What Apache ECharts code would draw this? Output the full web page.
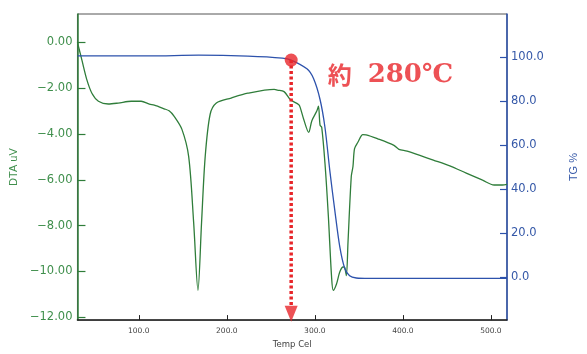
<!DOCTYPE html>
<html>
<head>
<meta charset="utf-8">
<script src="https://cdn.jsdelivr.net/npm/echarts@6/dist/echarts.min.js"></script>
<style>html,body{margin:0;padding:0;background:#fff}#c{width:587px;height:354px}</style>
</head>
<body>
<div id="c"></div>
<script>
// DTA curve (Temp Cel, uV)
const dtaTemp = [30.3,35.5,41.1,46.7,54.1,65.3,76.5,91.5,102.7,112.0,117.6,128.8,134.4,140.0,149.0,156.7,162.3,167.2,171.3,175.4,181.0,188.1,204.9,223.9,253.8,257.5,265.0,272.4,281.8,283.5,287.4,293.0,296.6,302.2,304.1,305.9,307.8,311.5,315.3,319.0,320.9,324.6,328.3,332.1,333.9,335.8,337.7,341.4,343.3,345.1,348.9,354.5,358.2,371.3,389.9,395.5,404.9,434.6,453.3,472.0,490.6,503.7,513.0,518.3];
const dtaValue = [0.00,-0.80,-1.65,-2.22,-2.57,-2.69,-2.65,-2.57,-2.57,-2.70,-2.74,-2.90,-2.99,-3.22,-3.80,-5.00,-7.86,-10.83,-7.86,-5.00,-3.15,-2.65,-2.43,-2.22,-2.05,-2.08,-2.15,-2.51,-2.72,-2.86,-3.37,-3.93,-3.42,-3.00,-2.79,-3.61,-3.71,-5.28,-7.56,-10.25,-10.83,-10.55,-10.03,-9.81,-9.83,-10.19,-8.70,-5.85,-5.42,-4.64,-4.36,-4.03,-4.04,-4.21,-4.50,-4.67,-4.75,-5.14,-5.39,-5.71,-6.02,-6.23,-6.23,-6.20];
// TG curve (Temp Cel, %)
const tgTemp = [30.3,112.0,167.9,223.9,263.1,273.1,291.0,298.5,305.9,311.5,317.1,322.7,328.3,333.9,339.5,347.0,361.6,518.3];
const tgValue = [100.4,100.4,100.7,100.3,99.4,98.5,94.5,90.1,80.6,67.9,48.0,30.2,13.8,4.0,0.6,-0.4,-0.6,-0.6];
// annotation
const markTemp = 273.1;
const markTG = [98.5, -13.3, -16.6]; // dot, dotted-line end, arrow head
const markText = '約 280℃';
// ticks
const xTicks = [100,200,300,400,500];
const dtaTicks = [0,-2,-4,-6,-8,-10,-12];
const tgTicks = [0,20,40,60,80,100];

const GREEN = '#2f7d3a', GREEN_L = '#3f8f4c', BLUE = '#2d52ac', BLUE_L = '#3558a8', RED = '#e8262a';
const zip = (a, b) => a.map((v, i) => [v, b[i]]);

const chart = echarts.init(document.getElementById('c'), null, {renderer: 'canvas'});
chart.setOption({
  animation: false,
  grid: {left: 77, right: 74, top: 14, bottom: 27, show: true, borderColor: '#555', borderWidth: 1},
  xAxis: {
    type: 'value', min: 30.3, max: 518.3,
    name: 'Temp Cel', nameLocation: 'middle', nameGap: 17,
    nameTextStyle: {color: '#444', fontSize: 8.5, fontFamily: 'DejaVu Sans'},
    axisLine: {show: true, onZero: false, lineStyle: {color: '#222', width: 1.5}},
    axisTick: {show: true, inside: true, length: 5, customValues: xTicks, lineStyle: {color: '#222'}},
    axisLabel: {customValues: xTicks, margin: 7, color: '#444', fontSize: 7.5, fontFamily: 'DejaVu Sans', formatter: v => v.toFixed(1)},
    splitLine: {show: false}
  },
  yAxis: [{
    type: 'value', min: -12.13, max: 1.24, position: 'left',
    name: 'DTA uV', nameLocation: 'middle', nameGap: 58, nameRotate: 90,
    nameTextStyle: {color: GREEN_L, fontSize: 11, fontFamily: 'Liberation Sans'},
    axisLine: {show: true, onZero: false, lineStyle: {color: GREEN, width: 1.5}},
    axisTick: {show: true, inside: true, length: 8, customValues: dtaTicks, lineStyle: {color: GREEN, width: 1.2}},
    axisLabel: {customValues: dtaTicks, margin: 5, color: GREEN_L, fontSize: 11.5, fontFamily: 'DejaVu Sans', formatter: v => v.toFixed(2).replace('-', '\u2212')},
    splitLine: {show: false}
  }, {
    type: 'value', min: -19.5, max: 119.4, position: 'right',
    name: 'TG %', nameLocation: 'middle', nameGap: 61, nameRotate: 90,
    nameTextStyle: {color: BLUE_L, fontSize: 11, fontFamily: 'Liberation Sans'},
    axisLine: {show: true, onZero: false, lineStyle: {color: BLUE, width: 1.5}},
    axisTick: {show: true, inside: true, length: 7, customValues: tgTicks, lineStyle: {color: BLUE, width: 1.2}},
    axisLabel: {customValues: tgTicks, margin: 4, color: BLUE_L, fontSize: 11.5, fontFamily: 'DejaVu Sans', formatter: v => v.toFixed(1)},
    splitLine: {show: false}
  }],
  series: [{
    name: 'DTA', type: 'line', yAxisIndex: 0, data: zip(dtaTemp, dtaValue),
    smooth: 0.3, showSymbol: false, lineStyle: {color: GREEN, width: 1.3}, z: 2
  }, {
    name: 'TG', type: 'line', yAxisIndex: 1, data: zip(tgTemp, tgValue),
    smooth: 0.3, showSymbol: false, lineStyle: {color: BLUE, width: 1.3}, z: 3
  }, {
    name: 'guide', type: 'line', yAxisIndex: 1,
    data: [[markTemp, markTG[0]], [markTemp, markTG[1]]],
    showSymbol: false, lineStyle: {color: RED, width: 3.5, type: [3, 2.5], cap: 'butt'}, z: 4
  }, {
    name: 'arrow', type: 'scatter', yAxisIndex: 1, data: [[markTemp, markTG[2]]],
    symbol: 'triangle', symbolRotate: 180, symbolSize: [13, 16], itemStyle: {color: RED}, z: 5, clip: false
  }, {
    name: 'dot', type: 'scatter', yAxisIndex: 1, data: [[markTemp, markTG[0]]],
    symbolSize: 13, itemStyle: {color: RED}, z: 6,
    label: {
      show: true, position: 'right', distance: 30, offset: [0, 15],
      formatter: '{a|約}{b|280℃}',
      rich: {
        a: {color: RED, fontSize: 24, fontWeight: 'bold', fontFamily: 'Noto Sans CJK JP'},
        b: {color: RED, fontSize: 26, fontWeight: 'bold', fontFamily: 'DejaVu Serif, Liberation Serif, serif', padding: [0, 0, 0, 16]}
      }
    }
  }]
});
</script>
</body>
</html>
